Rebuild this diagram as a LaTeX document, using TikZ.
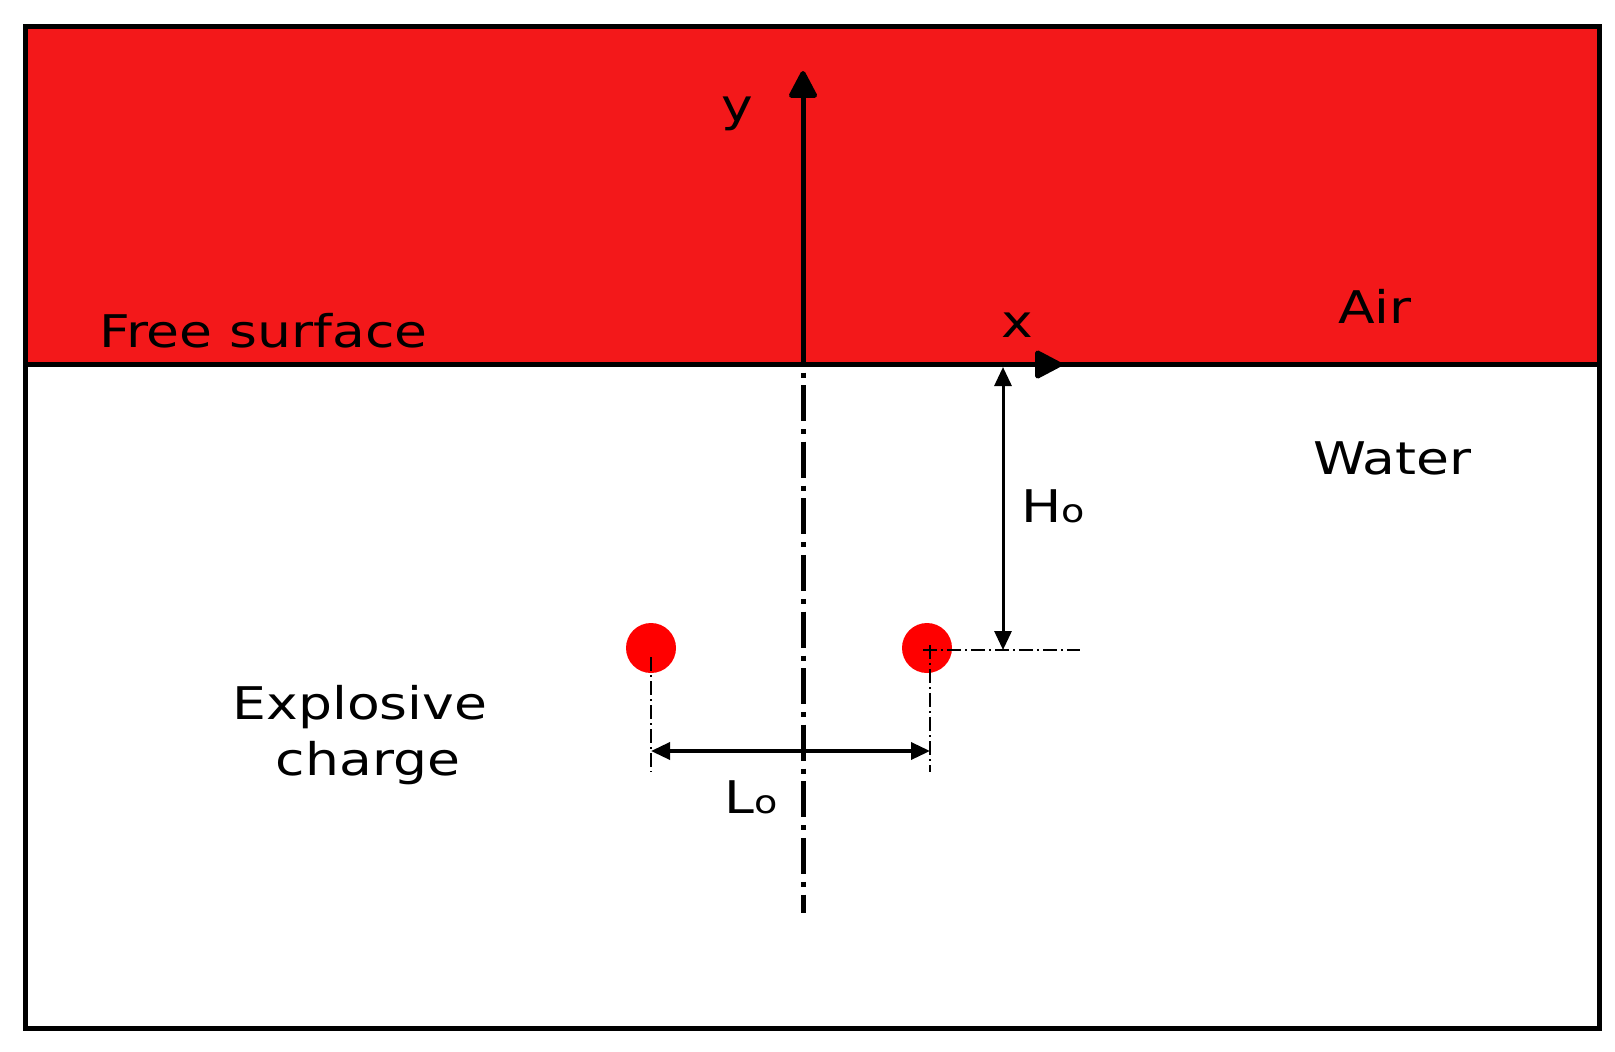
\documentclass[tikz,border=0pt]{standalone}
\usepackage{fontspec}
\setmainfont{DejaVu Sans}[FakeStretch=1.19]
\usetikzlibrary{arrows.meta}
\definecolor{airred}{RGB}{243,24,26}
\definecolor{chargered}{RGB}{255,0,0}
\begin{document}
\begin{tikzpicture}[x=1pt,y=-1pt,
 lbl/.style={inner sep=0pt, anchor=base west, font=\fontsize{45}{39}\selectfont},
 lblc/.style={inner sep=0pt, anchor=base, font=\fontsize{45}{39}\selectfont},
 axisarrow/.style={line width=5pt, -{Triangle[length=30pt,width=30pt,round]}},
 dimarrow/.style={line width=3pt, {Triangle[length=19pt,width=17pt]}-{Triangle[length=19pt,width=17pt]}},
 centerline/.style={line width=5pt, dash pattern=on 36pt off 8pt on 5pt off 7.6pt, dash phase=36pt},
 extline/.style={line width=2pt, dash pattern=on 14pt off 4pt on 2pt off 4pt},
 charge/.style={circle, fill=chargered, minimum size=50pt, inner sep=0pt}]
\useasboundingbox (0,0) rectangle (1615,1052);
% regions
\fill[airred] (25.5,26.5) rectangle (1599.5,364.5);
\draw[line width=5pt] (25.5,26.5) rectangle (1599.5,1028.5);
% free surface
\coordinate (fsL) at (25.5,364.5);
\coordinate (fsR) at (1599.5,364.5);
\coordinate (O) at (803,364.5);
\draw[line width=5pt] (fsL) -- (fsR);
% axes
\coordinate (ytip) at (803,71);
\coordinate (xtip) at (1062,364.5);
\draw[axisarrow] (O) -- (ytip);
\draw[axisarrow] (O) -- (xtip);
% centre line
\coordinate (cbot) at (803,913);
\draw[centerline] (O) -- (cbot);
% charges
\node[charge] (c1) at (651,648) {};
\node[charge] (c2) at (927,648) {};
% extension lines
\coordinate (e1a) at (651,657);
\coordinate (e1b) at (651,772);
\coordinate (e2a) at (930,645);
\coordinate (e2b) at (930,772);
\coordinate (h2a) at (923,650);
\coordinate (h2b) at (1080,650);
\draw[extline] (e1a) -- (e1b);
\draw[extline] (e2a) -- (e2b);
\draw[extline] (h2a) -- (h2b);
% dimensions
\coordinate (L1) at (651,751);
\coordinate (L2) at (930,751);
\draw[dimarrow, line width=3.5pt] (L1) -- (L2);
\coordinate (H1) at (1003,367);
\coordinate (H2) at (1003,650);
\draw[dimarrow] (H1) -- (H2);
% labels
\node[lbl] (ylab) at (721,121) {y};
\node[lbl] (xlab) at (1001,337) {x};
\node[lbl] (fslab) at (99,347) {Free surface};
\node[lbl] (airlab) at (1338,323) {Air};
\node[lbl] (waterlab) at (1313,474) {Water};
\node[lblc] (explab) at (360,719) {Explosive};
\node[lblc] (chglab) at (368,775) {charge};
\node[lbl] (hlab) at (1021,522) {H{\fontsize{32}{32}\selectfont o}};
\node[lbl] (llab) at (724,813) {L{\fontsize{32}{32}\selectfont o}};
\end{tikzpicture}
\end{document}
